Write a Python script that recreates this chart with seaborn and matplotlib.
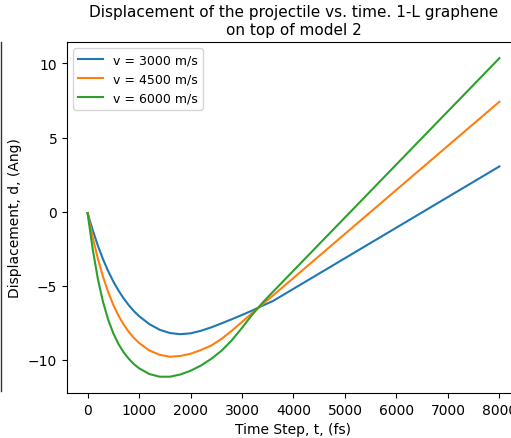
import matplotlib
matplotlib.use("Agg")
import matplotlib.pyplot as plt
from matplotlib.lines import Line2D
import seaborn as sns
import pandas as pd

# Time steps (fs)
time_fs = [0, 100, 200, 300, 400, 500, 600, 700, 800, 900, 1000, 1200, 1400, 1600,
           1800, 2000, 2200, 2400, 2600, 2800, 3000, 3200, 3400, 3600, 8000]

disp_3000 = [-0.1, -1.25, -2.3, -3.22, -4.02, -4.72, -5.33, -5.86, -6.32, -6.72,
             -7.06, -7.6, -7.98, -8.2, -8.28, -8.22, -8.05, -7.82, -7.55, -7.27,
             -6.98, -6.68, -6.35, -6.04, 3.05]
disp_4500 = [-0.1, -1.75, -3.18, -4.4, -5.43, -6.3, -7.02, -7.62, -8.12, -8.53,
             -8.87, -9.38, -9.67, -9.8, -9.75, -9.6, -9.35, -9.05, -8.6, -8.05,
             -7.45, -6.85, -6.25, -5.67, 7.42]
disp_6000 = [-0.1, -2.55, -4.55, -6.1, -7.3, -8.22, -8.94, -9.5, -9.94, -10.3,
             -10.58, -10.97, -11.15, -11.15, -11.0, -10.75, -10.4, -9.95, -9.4,
             -8.7, -7.85, -6.95, -6.15, -5.42, 10.36]

series_labels = ["v = 3000 m/s", "v = 4500 m/s", "v = 6000 m/s"]
series_values = [disp_3000, disp_4500, disp_6000]

rows = []
for lab, vals in zip(series_labels, series_values):
    for t, d in zip(time_fs, vals):
        rows.append({"t": t, "d": d, "series": lab})
df = pd.DataFrame(rows)

fig = plt.figure(figsize=(5.11, 4.39), dpi=100)
ax = fig.add_axes([0.1311, 0.1025, 0.8865, 0.7995])

sns.lineplot(data=df, x="t", y="d", hue="series", hue_order=series_labels,
             palette=["#1f77b4", "#ff7f0e", "#2ca02c"], errorbar=None,
             linewidth=1.5, ax=ax)

ax.set_xlim(-400, 8400)
ax.set_ylim(-12.25, 11.45)
ax.set_xticks([0, 1000, 2000, 3000, 4000, 5000, 6000, 7000, 8000])
ax.set_yticks([-10, -5, 0, 5, 10])
ax.set_xlabel("Time Step, t, (fs)")
ax.set_ylabel("Displacement, d, (Ang)")
ax.set_title("Displacement of the projectile vs. time. 1-L graphene\non top of model 2",
             fontsize=11)
sns.move_legend(ax, "upper left", title=None, fontsize=9)

# partial frame of a neighbouring panel at the very left edge
fig.add_artist(Line2D([0.002, 0.002], [1 - 43 / 439, 1 - 392 / 439],
                      transform=fig.transFigure, color="#333333", linewidth=1.0))

fig.savefig("out.png", dpi=100)
